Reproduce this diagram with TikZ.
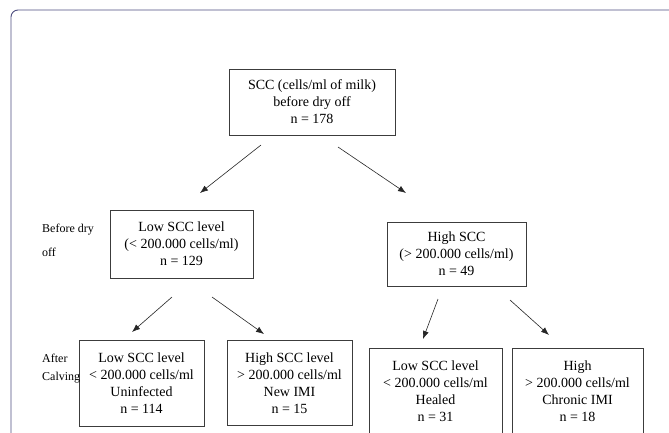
\documentclass[tikz,border=0pt]{standalone}
\usepackage{fontspec}
\setmainfont{Liberation Serif}
\usetikzlibrary{arrows.meta}
\definecolor{framecol}{RGB}{78,78,128}
\definecolor{boxcol}{RGB}{60,60,60}
\tikzset{
  sccbox/.style={draw=boxcol, line width=0.8pt, align=center, inner sep=0pt,
    font=\fontsize{14}{17}\selectfont},
  sidelabel/.style={anchor=west, align=left, inner sep=0pt,
    font=\fontsize{12}{24}\selectfont},
  flow/.style={->, line width=0.6pt, black!85}
}
\begin{document}
\begin{tikzpicture}[x=1pt, y=-1pt, >={Latex[length=8pt,width=6pt]}]
    \useasboundingbox (0,0) rectangle (669,432);
    \clip (0,0) rectangle (669,432);
    \fill[white] (0,0) rectangle (669,432);
    \draw[framecol, line width=0.9pt, rounded corners=7pt] (11,460) -- (11,10) -- (700,10);

    \node[sccbox, minimum width=166pt, minimum height=66pt] (total) at (312,102)
      {SCC (cells/ml of milk)\\ before dry off\\ n = 178};
    \node[sccbox, minimum width=143pt, minimum height=68pt] (lowdry) at (181.5,244)
      {Low SCC level\\ (< 200.000 cells/ml)\\ n = 129};
    \node[sccbox, minimum width=139pt, minimum height=64pt] (highdry) at (456.5,254)
      {High SCC\\ (> 200.000 cells/ml)\\ n = 49};
    \node[sccbox, minimum width=125pt, minimum height=86pt] (uninf) at (141.5,383)
      {Low SCC level\\ < 200.000 cells/ml\\ Uninfected\\ n = 114};
    \node[sccbox, minimum width=125pt, minimum height=85pt] (newimi) at (289.5,383)
      {High SCC level\\ > 200.000 cells/ml\\ New IMI\\ n = 15};
    \node[sccbox, minimum width=133pt, minimum height=86pt, anchor=north] (healed) at (435.5,348)
      {\\[-8pt]Low SCC level\\ < 200.000 cells/ml\\ Healed\\ n = 31};
    \node[sccbox, minimum width=131pt, minimum height=86pt, anchor=north] (chronic) at (577.5,348)
      {\\[-8pt]High\\ > 200.000 cells/ml\\ Chronic IMI\\ n = 18};

    \node[sidelabel] (beforelbl) at (42,240) {Before dry\\ off};
    \node[sidelabel, font=\fontsize{12}{18}\selectfont] (afterlbl) at (42,369) {After\\ Calving};

    \coordinate (t1) at (261,145);
    \coordinate (t2) at (338,147);
    \coordinate (l1) at (172,297);
    \coordinate (l2) at (212,297);
    \coordinate (h1) at (438,299);
    \coordinate (h2) at (510,300);
    \draw[flow] (t1) -- (200,193);
    \draw[flow] (t2) -- (406,193);
    \draw[flow] (l1) -- (132,332);
    \draw[flow] (l2) -- (264,334);
    \draw[flow] (h1) -- (423,339);
    \draw[flow] (h2) -- (549,335);
  \end{tikzpicture}
\end{document}
